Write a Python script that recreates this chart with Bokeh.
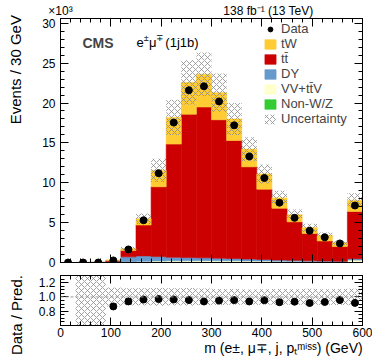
import numpy as np
from bokeh.plotting import figure
from bokeh.models import (ColumnDataSource, Legend, LegendItem, Label, LinearAxis,
                          SingleIntervalTicker, FixedTicker, Span, CustomJSTickFormatter,
                          PrintfTickFormatter, Range1d)
from bokeh.layouts import column
from bokeh.embed import file_html
from bokeh.resources import INLINE

# ---------------- data (events in units of 10^3) ----------------
bin_edges = [0, 30, 60, 90, 120, 150, 180, 210, 240, 270, 300,
             330, 360, 390, 420, 450, 480, 510, 540, 570, 600]
non_wz = [0.0, 0.001, 0.002, 0.01, 0.03, 0.05, 0.06, 0.06, 0.06, 0.06,
          0.05, 0.05, 0.04, 0.04, 0.03, 0.03, 0.02, 0.02, 0.02, 0.05]
vv_ttv = [0.0, 0.001, 0.002, 0.02, 0.06, 0.10, 0.13, 0.15, 0.16, 0.17,
          0.17, 0.16, 0.15, 0.14, 0.12, 0.11, 0.09, 0.08, 0.07, 0.25]
dy = [0.0, 0.001, 0.004, 0.08, 0.62, 0.68, 0.55, 0.45, 0.40, 0.36,
      0.32, 0.28, 0.24, 0.20, 0.16, 0.13, 0.10, 0.08, 0.07, 0.18]
ttbar = [0.0, 0.001, 0.002, 0.14, 0.79, 3.87, 8.76, 14.19, 17.98, 18.91,
         17.36, 14.81, 11.57, 8.82, 6.49, 4.83, 3.44, 2.52, 1.84, 5.92]
tw = [0.0, 0.0, 0.0, 0.05, 0.25, 0.80, 2.05, 3.35, 4.00, 4.10,
      3.40, 2.70, 2.20, 1.90, 1.30, 0.90, 0.70, 0.70, 0.50, 1.40]
data = [0.0, 0.0, 0.0, 0.26, 1.64, 5.30, 11.20, 17.55, 21.60, 22.10,
        20.20, 17.20, 13.30, 10.60, 7.50, 5.60, 3.98, 3.16, 2.39, 7.15]
unc = [0.0, 0.004, 0.01, 0.04, 0.21, 0.66, 1.45, 2.20, 2.80, 2.75,
       2.40, 2.00, 1.50, 1.20, 0.90, 0.65, 0.50, 0.37, 0.28, 0.90]

x_tick_step = 100
y_tick_step = 5
ratio_ticks = [0.8, 1.0, 1.2]
ratio_minor = [0.65, 0.7, 0.75, 0.85, 0.9, 0.95, 1.05, 1.1, 1.15, 1.25]
header_pos = [0, 413]
header_text = ["×10³", "138 fb⁻¹ (13 TeV)"]
y_title = "Events / 30 GeV"
ratio_title = "Data / Pred."
x_title = "m (e±, μ∓, j, pₜᵐⁱˢˢ) (GeV)"

colors = {"non_wz": "#33CC33", "vv_ttv": "#FFFFCC", "dy": "#6699CC",
          "ttbar": "#CC0000", "tw": "#FFCC33"}
FONT = "Liberation Sans"
HATCH = "#8a8a8a"
NB = "\u00a0"

lo = np.array(bin_edges[:-1], float)
hi = np.array(bin_edges[1:], float)
ctr = (lo + hi) / 2
total = (np.array(non_wz) + np.array(vv_ttv) + np.array(dy)
         + np.array(ttbar) + np.array(tw))
unc_a = np.array(unc)
data_a = np.array(data)
with np.errstate(divide="ignore", invalid="ignore"):
    ratio = np.where(total > 0, data_a / total, np.nan)
    rel = np.where(total > 0, unc_a / total, np.nan)

# ---------------- helpers ----------------
W = {' ': 278, '(': 333, ')': 333, ',': 278, 'e': 556, 'm': 833, 'j': 222,
     'p': 556, 'G': 778, 'V': 667, 'T': 611, 'i': 222, 's': 500, '±': 584,
     'μ': 576, '∓': 584, '1': 556, 'b': 556}


def tw_(t, size):
    return sum(W.get(c, 556) for c in t) * size / 1000.0


def place(fig, pieces, x0, y0):
    x = x0
    for t, st, s, d, g in pieces:
        x += g
        fig.add_layout(Label(x=x, y=y0 + d, x_units="screen", y_units="screen",
                             text=t, text_font=FONT, text_font_size=f"{s}px",
                             text_font_style=st, text_color="black",
                             text_baseline="alphabetic", text_align="left"))
        x += tw_(t, s)


def style_axis(ax, labels=True, fs="12px", standoff=4):
    ax.major_tick_in = 8
    ax.major_tick_out = 0
    ax.minor_tick_in = 4
    ax.minor_tick_out = 0
    ax.axis_line_color = "black"
    ax.major_tick_line_color = "black"
    ax.minor_tick_line_color = "black"
    ax.major_label_text_font = FONT
    ax.major_label_text_font_size = fs
    ax.major_label_text_color = "black"
    ax.major_label_standoff = standoff
    ax.axis_label = None
    if not labels:
        ax.formatter = CustomJSTickFormatter(code="return ''")
        ax.major_label_standoff = 0


def set_title(ax, text, size, standoff, align):
    ax.axis_label = text
    ax.axis_label_text_font = FONT
    ax.axis_label_text_font_size = size
    ax.axis_label_text_font_style = "normal"
    ax.axis_label_text_color = "black"
    ax.axis_label_standoff = standoff
    try:
        ax.axis_label_align = align
    except Exception:
        pass


# ---------------- main panel ----------------
xr = Range1d(0, 600)
p = figure(width=372, height=269, x_range=xr, y_range=Range1d(0, 30.6),
           output_backend="svg", toolbar_location=None,
           min_border_left=60, min_border_right=10, min_border_top=15,
           min_border_bottom=7)
p.grid.visible = False
p.outline_line_color = "black"

src = ColumnDataSource(dict(x=ctr, non_wz=non_wz, vv_ttv=vv_ttv, dy=dy,
                            ttbar=ttbar, tw=tw))
keys = ["non_wz", "vv_ttv", "dy", "ttbar", "tw"]
rs = p.vbar_stack(keys, x="x", width=30, source=src,
                  fill_color=[colors[k] for k in keys],
                  line_color=[colors[k] for k in keys], line_width=0.6)

hsrc = ColumnDataSource(dict(left=lo, right=hi, bottom=total - unc_a, top=total + unc_a))
rh = p.quad(left="left", right="right", bottom="bottom", top="top", source=hsrc,
            fill_alpha=0, line_color=None, hatch_pattern="x", hatch_color=HATCH,
            hatch_scale=6, hatch_weight=0.8)

rd = p.scatter(ctr, data_a, size=7, color="black")

style_axis(p.xaxis[0], labels=False)
p.xaxis[0].ticker = SingleIntervalTicker(interval=x_tick_step, num_minor_ticks=5)
style_axis(p.yaxis[0], labels=True, standoff=5)
p.yaxis[0].ticker = SingleIntervalTicker(interval=y_tick_step, num_minor_ticks=5)
# centred title, padded at its start so that the text ends near the frame top
set_title(p.yaxis[0], NB * 34 + y_title, "15px", 15, "center")

ax_top = LinearAxis(ticker=SingleIntervalTicker(interval=x_tick_step, num_minor_ticks=5))
style_axis(ax_top, labels=False)
p.add_layout(ax_top, "above")
# header texts carried by a tick-less axis above the frame
ax_head = LinearAxis(ticker=FixedTicker(ticks=header_pos, minor_ticks=[]),
                     major_label_overrides={float(k): v for k, v in zip(header_pos, header_text)})
ax_head.axis_line_color = None
ax_head.major_tick_line_color = None
ax_head.minor_tick_line_color = None
ax_head.major_tick_in = 0
ax_head.major_tick_out = 0
ax_head.minor_tick_in = 0
ax_head.minor_tick_out = 0
ax_head.major_label_standoff = 1
ax_head.major_label_text_align = "left"
ax_head.major_label_text_font = FONT
ax_head.major_label_text_font_size = "12px"
ax_head.major_label_text_color = "black"
p.add_layout(ax_head, "above")

ax_r = LinearAxis(ticker=SingleIntervalTicker(interval=y_tick_step, num_minor_ticks=5))
style_axis(ax_r, labels=False)
p.add_layout(ax_r, "right")

legend = Legend(items=[
    LegendItem(label="Data", renderers=[rd]),
    LegendItem(label="tW", renderers=[rs[4]]),
    LegendItem(label="tt\u0304", renderers=[rs[3]]),
    LegendItem(label="DY", renderers=[rs[2]]),
    LegendItem(label="VV+tt\u0304V", renderers=[rs[1]]),
    LegendItem(label="Non-W/Z", renderers=[rs[0]]),
    LegendItem(label="Uncertainty", renderers=[rh]),
], location=(203, 136))
legend.label_text_font = FONT
legend.label_text_font_size = "13px"
legend.glyph_width = 14
legend.glyph_height = 12
legend.label_height = 12
legend.label_standoff = 4
legend.spacing = 0
legend.padding = 0
legend.margin = 0
legend.border_line_color = None
legend.background_fill_alpha = 0
p.add_layout(legend)

# in-frame texts (origin at frame bottom-left)
p.add_layout(Label(x=22, y=220, x_units="screen", y_units="screen", text="CMS",
                   text_font=FONT, text_font_size="14px", text_font_style="bold",
                   text_baseline="alphabetic"))
place(p, [("e", "normal", 13, 0, 0), ("±", "normal", 9, 5, 0),
          ("μ", "normal", 13, 0, 0), ("∓", "normal", 9, 5, 0),
          ("(1j1b)", "normal", 13, 0, 3.6)], 76, 220)

# ---------------- ratio panel ----------------
r = figure(width=372, height=89, x_range=xr, y_range=Range1d(0.6, 1.3),
           output_backend="svg", toolbar_location=None,
           min_border_left=60, min_border_right=10, min_border_top=6,
           min_border_bottom=31)
r.grid.visible = False
r.outline_line_color = "black"
r.add_layout(Span(location=1.0, dimension="width", line_color="#999999",
                  line_dash="3 2", line_width=1))
rsrc = ColumnDataSource(dict(left=lo, right=hi, bottom=1 - rel, top=1 + rel))
r.quad(left="left", right="right", bottom="bottom", top="top", source=rsrc,
       fill_alpha=0, line_color=None, hatch_pattern="x", hatch_color=HATCH,
       hatch_scale=6, hatch_weight=0.8)
r.scatter(ctr, ratio, size=7, color="black")

style_axis(r.xaxis[0], labels=True, fs="12px", standoff=2)
r.xaxis[0].ticker = SingleIntervalTicker(interval=x_tick_step, num_minor_ticks=5)
# centred title, padded at its start so that the text ends at the frame's right edge
set_title(r.xaxis[0], NB * 37 + x_title, "14px", 0, "center")
style_axis(r.yaxis[0], labels=True, standoff=5)
r.yaxis[0].ticker = FixedTicker(ticks=ratio_ticks, minor_ticks=ratio_minor)
r.yaxis[0].formatter = PrintfTickFormatter(format="%.1f")
set_title(r.yaxis[0], NB * 5 + ratio_title, "15px", 11, "start")
rt = LinearAxis(ticker=SingleIntervalTicker(interval=x_tick_step, num_minor_ticks=5))
style_axis(rt, labels=False)
r.add_layout(rt, "above")
rr = LinearAxis(ticker=FixedTicker(ticks=ratio_ticks, minor_ticks=ratio_minor))
style_axis(rr, labels=False)
r.add_layout(rr, "right")

layout = column(p, r)
open("out.html", "w").write(file_html(layout, INLINE))
